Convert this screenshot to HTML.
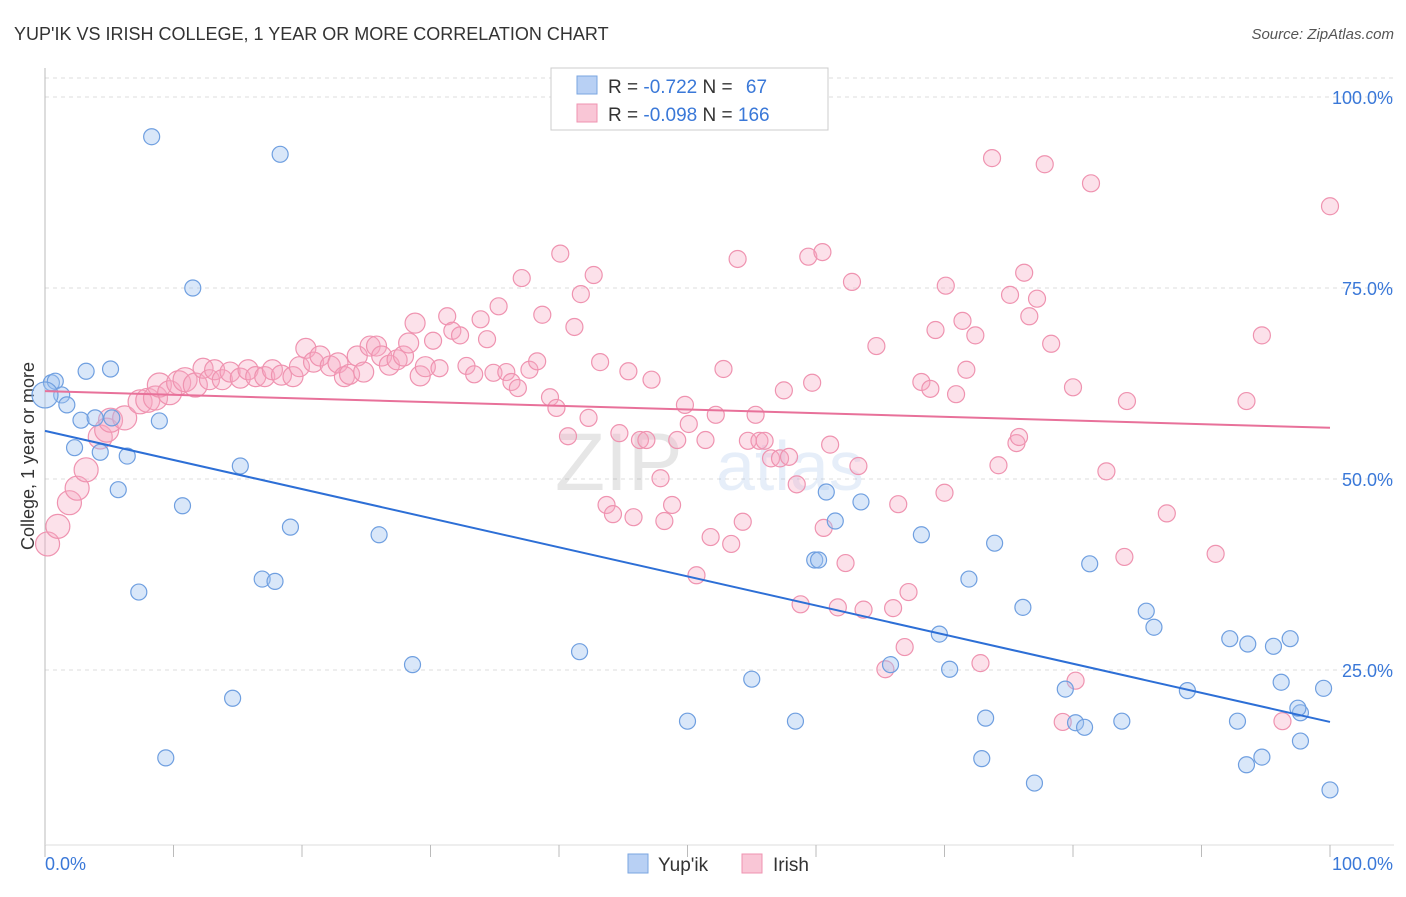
<!DOCTYPE html>
<html><head><meta charset="utf-8"><style>
body{margin:0;background:#fff;font-family:"Liberation Sans",sans-serif;}
svg text{font-family:"Liberation Sans",sans-serif;}
</style></head><body>
<svg id="chart" width="1406" height="892">
<text x="14" y="40" font-size="18" fill="#333">YUP'IK VS IRISH COLLEGE, 1 YEAR OR MORE CORRELATION CHART</text>
<text x="1394" y="39" font-size="15" fill="#555" text-anchor="end" font-style="italic">Source: ZipAtlas.com</text>
<g id="grid"></g>
<g id="wm" opacity="0.18">
<text x="555" y="490" font-size="82" fill="#777" font-family="Liberation Serif">ZIP</text>
<text x="716" y="490" font-size="70" fill="#7aa6e0">atlas</text>
</g>
<text transform="translate(34,456) rotate(-90)" font-size="18" fill="#333" text-anchor="middle">College, 1 year or more</text>
<g id="pts"></g>
<g id="lines"></g>
<g>
<rect x="551" y="68" width="277" height="62" fill="#fff" stroke="#ccc"/>
<rect x="577" y="76" width="20" height="18" fill="#b8d0f4" stroke="#7aa6e0"/>
<rect x="577" y="104" width="20" height="18" fill="#f9c6d6" stroke="#ef93b0"/>
<text x="608" y="93" font-size="19" fill="#333">R = <tspan fill="#3a78d8">-0.722</tspan>   N = <tspan fill="#3a78d8" dx="8">67</tspan></text>
<text x="608" y="121" font-size="19" fill="#333">R = <tspan fill="#3a78d8">-0.098</tspan>   N = <tspan fill="#3a78d8">166</tspan></text>
</g>
<g>
<rect x="628" y="854" width="20" height="19" fill="#b8d0f4" stroke="#7aa6e0"/>
<text x="658" y="871" font-size="19" fill="#333">Yup'ik</text>
<rect x="742" y="854" width="20" height="19" fill="#f9c6d6" stroke="#ef93b0"/>
<text x="773" y="871" font-size="19" fill="#333">Irish</text>
</g>
</svg>
<script>
const yTicks=[100,75,50,25];
const yTickLabels=["100.0%","75.0%","50.0%","25.0%"];
const xTickLabels=["0.0%","100.0%"];
const blueX=[0.5,0.8,1.3,1.7,3.2,5.1,8.3,18.3,11.5,2.8,3.9,5.2,2.3,4.3,6.4,8.9,5.7,15.2,10.7,19.1,26.0,7.3,16.9,17.9,28.6,41.6,14.6,9.4,50.0,55.0,58.4,60.8,61.5,63.5,59.9,60.2,68.2,65.8,69.6,70.4,71.9,73.9,73.2,72.9,76.1,77.0,79.4,80.2,80.9,81.3,83.8,85.7,86.3,88.9,92.2,92.8,93.6,93.5,94.7,95.6,96.9,96.2,97.7,97.5,97.7,99.5,100,0];
const blueY=[62.6,62.8,61.0,59.7,64.1,64.4,94.8,92.5,75.0,57.7,58.0,58.0,54.1,53.5,53.0,57.6,48.6,51.7,46.5,43.7,42.7,35.2,36.9,36.6,25.7,27.4,21.3,13.5,18.3,23.8,18.3,48.3,44.5,47.0,39.4,39.4,42.7,25.7,29.7,25.1,36.9,41.6,18.7,13.4,33.2,10.2,22.5,18.1,17.5,38.9,18.3,32.7,30.6,22.3,29.1,18.3,28.4,12.6,13.6,28.1,29.1,23.4,19.4,20.0,15.7,22.6,9.3,61.0];
const pinkX=[0.2,1.0,1.9,2.5,3.2,4.3,4.8,5.1,6.2,7.4,8.0,8.6,8.9,9.7,10.4,10.9,11.7,12.3,12.8,13.2,13.8,14.4,15.2,15.8,16.4,17.1,17.7,18.4,19.3,19.8,20.3,20.9,21.4,22.2,22.8,23.3,23.7,24.3,24.8,25.3,25.8,26.2,26.8,27.4,27.9,28.3,28.8,29.2,29.6,30.2,30.7,31.3,31.7,32.3,32.8,33.4,33.9,34.4,34.9,35.3,35.9,36.3,36.8,37.1,37.7,38.3,38.7,39.3,39.8,40.1,40.7,41.2,41.7,42.3,42.7,43.2,43.7,44.2,44.7,45.4,45.8,46.3,46.8,47.2,47.9,48.2,48.8,49.2,49.8,50.1,50.7,51.4,51.8,52.2,52.8,53.4,53.9,54.3,54.7,55.3,55.6,56.0,56.5,57.2,57.5,57.9,58.5,58.8,59.4,59.7,60.5,60.6,61.1,61.7,62.3,62.8,63.3,63.7,64.7,65.4,66.0,66.4,66.9,67.2,68.2,68.9,69.3,70.0,70.1,70.9,71.4,71.7,72.4,72.8,73.7,74.2,75.1,75.6,75.8,76.2,76.6,77.2,77.8,78.3,79.2,80.0,80.2,81.4,82.6,84.0,84.2,87.3,91.1,93.5,94.7,100,96.3];
const pinkY=[41.5,43.8,46.9,48.8,51.2,55.5,56.4,57.7,58.0,60.1,60.3,60.6,62.3,61.3,62.6,63.0,62.3,64.5,63.0,64.3,63.0,64.0,63.2,64.3,63.4,63.4,64.3,63.6,63.4,64.7,67.1,65.3,66.1,64.8,65.2,63.4,63.7,66.1,64.0,67.4,67.4,66.1,64.9,65.6,66.1,67.8,70.4,63.5,64.7,68.1,64.5,71.3,69.4,68.8,64.8,63.7,70.9,68.3,63.9,72.6,64.0,62.7,61.9,76.3,64.3,65.4,71.5,60.7,59.3,79.5,55.6,69.9,74.2,58.0,76.7,65.3,46.6,45.4,56.0,64.1,45.0,55.1,55.1,63.0,50.1,44.5,46.6,55.1,59.7,57.2,37.4,55.1,42.4,58.4,64.4,41.5,78.8,44.4,55.0,58.4,55.0,55.0,52.7,52.7,61.6,52.9,49.3,33.6,79.1,62.6,79.7,43.6,54.5,33.2,39.0,75.8,51.7,32.9,67.4,25.1,33.1,46.7,28.0,35.2,62.7,61.8,69.5,48.2,75.3,61.1,70.7,64.3,68.8,25.9,92.0,51.8,74.1,54.7,55.5,77.0,71.3,73.6,91.2,67.7,18.2,62.0,23.6,88.7,51.0,39.8,60.2,45.5,40.2,60.2,68.8,85.7,18.3];
const blueTrend=[56.3,18.2];
const pinkTrend=[61.5,56.7];

const NS="http://www.w3.org/2000/svg";
const X0=45,X1=1330,Y0=861,YS=7.64;
const sx=v=>X0+(X1-X0)*v/100;
const sy=v=>Y0-v*YS;
function mk(tag,attrs,parent){const e=document.createElementNS(NS,tag);for(const k in attrs)e.setAttribute(k,attrs[k]);parent.appendChild(e);return e;}
const grid=document.getElementById('grid');
const svg=document.getElementById('chart');
let g=mk('line',{x1:45,x2:1394,y1:78,y2:78,stroke:'#ddd','stroke-dasharray':'4,4'},grid);


yTicks.forEach((t,i)=>{
 const l=mk('line',{x1:45,x2:1394,y1:sy(t),y2:sy(t),stroke:'#ddd','stroke-dasharray':'4,4'},grid);
 
 
 const tx=mk('text',{x:1393,y:sy(t)+7,'font-size':18,fill:'#3a78d8','text-anchor':'end'},grid);
 tx.textContent=yTickLabels[i];
 
 
});
let ax=mk('line',{x1:45,x2:45,y1:68,y2:845,stroke:'#bbb'},grid);


let bx=mk('line',{x1:45,x2:1394,y1:845,y2:845,stroke:'#ddd'},grid);


for(let i=0;i<=10;i++){
 const t=mk('line',{x1:sx(i*10),x2:sx(i*10),y1:845,y2:857,stroke:'#bbb'},grid);
 
 
}
[[0,45,'start'],[1,1393,'end']].forEach(([i,x,a])=>{
 const t=mk('text',{x:x,y:870,'font-size':18,fill:'#3a78d8','text-anchor':a},grid);
 t.textContent=xTickLabels[i];
 
 
});
const pts=document.getElementById('pts');
pinkX.forEach((v,i)=>{
 const r=v<12?12:(v<30?10:8.5);
 const c=mk('circle',{cx:sx(v),cy:sy(pinkY[i]),r:r,fill:'rgba(246,170,196,0.35)',stroke:'#ef93b0','stroke-width':1.2},pts);
 
 
});
blueX.forEach((v,i)=>{
 const r=(v===0)?13:8;
 const c=mk('circle',{cx:sx(v),cy:sy(blueY[i]),r:r,fill:'rgba(160,195,240,0.4)',stroke:'#6f9fe0','stroke-width':1.2},pts);
 
 
});
const lines=document.getElementById('lines');
let bl=mk('line',{x1:sx(0),y1:sy(blueTrend[0]),x2:sx(100),y2:sy(blueTrend[1]),stroke:'#2d6fd6','stroke-width':2},lines);


let pl=mk('line',{x1:sx(0),y1:sy(pinkTrend[0]),x2:sx(100),y2:sy(pinkTrend[1]),stroke:'#e8719a','stroke-width':2},lines);


</script>
</body></html>
